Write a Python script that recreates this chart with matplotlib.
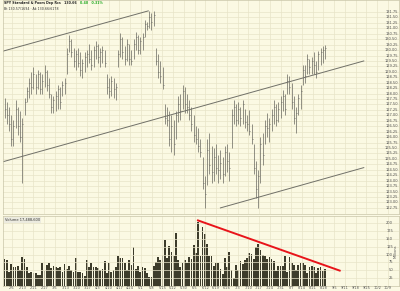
import matplotlib
matplotlib.use("Agg")
import matplotlib.pyplot as plt
import matplotlib.transforms as mtransforms
import numpy as np

# ---------------- data ----------------
high = [127.8, 127.6, 127.4, 127.0, 126.8, 127.7, 127.4, 127.2, 126.9, 127.8,
        128.3, 128.7, 129.0, 129.2, 128.9, 129.1, 129.0, 128.9, 129.3, 129.1,
        128.7, 128.0, 127.9, 128.1, 128.4, 128.3, 128.6, 128.7, 130.1, 130.7,
        130.5, 130.1, 130.0, 130.1, 129.9, 129.6, 129.9, 130.0, 130.3, 130.0,
        130.2, 130.4, 130.3, 130.1, 130.2, 130.0, 128.9, 128.7, 128.8, 128.7,
        128.5, 130.0, 130.8, 130.6, 130.2, 130.5, 130.3, 130.0, 130.5, 130.85,
        130.7, 130.6, 130.8, 131.4, 131.3, 131.8, 131.7, 131.8, 130.1, 129.8,
        129.5, 129.2, 127.5, 127.4, 127.2, 127.0, 126.8, 127.2, 127.9, 128.0,
        128.4, 128.3, 128.0, 127.7, 127.4, 127.0, 126.5, 126.4, 125.9, 125.1,
        124.2, 125.9, 126.2, 125.6, 125.5, 125.7, 125.2, 125.4, 125.1, 125.6,
        125.7, 125.3, 127.3, 127.7, 127.5, 127.6, 127.4, 127.7, 127.3, 127.0,
        127.25, 126.6, 125.7, 124.9, 124.5, 126.0, 126.2, 126.8, 127.1, 126.9,
        127.3, 127.7, 127.5, 127.6, 127.9, 128.15, 128.0, 128.9, 128.8, 128.5,
        127.9, 127.4, 128.0, 128.4, 129.3, 129.3, 129.8, 129.6, 129.7, 129.9,
        129.5, 129.95, 130.1, 130.2, 130.25]
low = [126.9, 126.6, 126.3, 125.6, 125.6, 126.4, 126.1, 125.8, 123.9, 127.0,
       127.6, 127.8, 128.0, 128.2, 128.0, 128.2, 128.0, 128.0, 128.3, 128.1,
       127.8, 127.1, 127.1, 127.2, 127.3, 127.3, 127.9, 128.0, 128.9, 129.9,
       129.7, 129.2, 129.1, 129.2, 128.8, 128.7, 129.0, 129.2, 129.4, 129.1,
       129.2, 129.6, 129.4, 129.2, 129.4, 129.2, 128.0, 127.8, 127.9, 127.8,
       127.7, 129.2, 129.7, 129.6, 129.3, 129.5, 129.3, 129.3, 129.6, 130.0,
       129.8, 129.8, 130.0, 130.6, 130.9, 131.0, 130.9, 131.1, 129.3, 128.7,
       128.5, 128.2, 126.6, 126.5, 125.6, 125.3, 125.2, 125.9, 126.7, 126.8,
       127.3, 127.1, 127.1, 126.8, 126.3, 125.8, 125.7, 125.3, 125.1, 123.6,
       122.75, 123.8, 124.3, 123.9, 124.0, 124.3, 123.9, 124.1, 123.9, 124.2,
       124.4, 124.0, 125.5, 126.6, 126.5, 126.6, 126.5, 126.6, 126.4, 126.3,
       126.1, 125.7, 124.3, 123.2, 122.75, 123.9, 124.7, 125.7, 126.0, 125.8,
       126.3, 126.6, 126.5, 126.7, 126.9, 127.2, 127.0, 128.0, 128.0, 127.3,
       126.6, 126.2, 127.0, 127.3, 128.4, 128.5, 128.9, 128.9, 128.9, 128.9,
       128.7, 129.1, 129.3, 129.4, 129.6]
close = [127.3, 127.0, 126.6, 125.9, 126.5, 127.3, 126.5, 126.0, 126.6, 127.6,
         128.1, 128.5, 128.3, 128.9, 128.3, 128.9, 128.2, 128.6, 129.0, 128.4,
         128.0, 127.4, 127.7, 127.9, 128.2, 127.6, 128.4, 128.5, 129.8, 130.4,
         129.9, 129.5, 129.8, 129.4, 129.1, 129.4, 129.7, 129.8, 129.6, 129.3,
         130.0, 130.2, 129.7, 129.9, 130.0, 129.4, 128.3, 128.1, 128.6, 128.2,
         128.3, 129.8, 130.5, 129.9, 129.6, 130.3, 129.6, 129.5, 130.3, 130.6,
         130.0, 130.4, 130.6, 131.2, 131.1, 131.5, 131.3, 131.6, 129.5, 129.0,
         128.8, 128.4, 126.9, 126.8, 125.9, 126.5, 125.7, 127.0, 127.5, 127.2,
         128.1, 127.5, 127.4, 127.0, 126.6, 126.1, 125.9, 125.6, 125.3, 123.9,
         123.4, 125.4, 124.7, 124.4, 125.1, 124.6, 124.5, 124.8, 124.3, 125.3,
         124.9, 124.6, 127.0, 127.4, 126.8, 127.3, 126.9, 127.5, 126.7, 126.6,
         126.3, 125.9, 124.6, 123.6, 124.2, 125.7, 125.2, 126.5, 126.4, 126.6,
         127.0, 127.4, 126.8, 127.3, 127.6, 127.9, 127.3, 128.6, 128.3, 127.6,
         126.9, 127.1, 127.8, 128.1, 129.1, 128.8, 129.6, 129.2, 129.5, 129.3,
         129.0, 129.8, 129.9, 130.0, 130.1]
volume = [85, 83, 46, 70, 60, 62, 64, 51, 91, 85,
          60, 40, 46, 43, 43, 35, 35, 74, 49, 67,
          74, 58, 64, 62, 56, 60, 46, 70, 53, 64,
          51, 46, 88, 46, 46, 43, 32, 83, 62, 72,
          60, 60, 56, 51, 53, 81, 43, 72, 46, 51,
          62, 94, 88, 88, 72, 51, 83, 67, 125, 53,
          64, 46, 62, 56, 40, 30, 30, 64, 78, 91,
          83, 99, 145, 88, 128, 109, 94, 168, 83, 62,
          72, 83, 72, 91, 85, 131, 106, 205, 96, 187,
          166, 134, 96, 96, 64, 74, 74, 53, 38, 88,
          62, 109, 51, 24, 67, 51, 81, 70, 83, 88,
          104, 102, 85, 123, 134, 115, 99, 94, 85, 91,
          85, 81, 49, 64, 64, 64, 96, 46, 91, 72,
          67, 51, 67, 72, 72, 67, 43, 60, 64, 60,
          43, 56, 62, 49, 53]
date_labels = ["2/6", "2/13", "2/21", "2/27", "3/6", "3/13", "3/20", "3/27",
               "4/3", "4/10", "4/17", "4/24", "5/1", "5/8", "5/15", "5/22",
               "5/30", "6/5", "6/12", "6/19", "6/26", "7/3", "7/10", "7/17",
               "7/24", "7/31", "8/7", "8/14", "8/21", "8/28", "9/5", "9/11",
               "9/18", "9/25", "10/2", "10/9"]
# channel lines (bar index, price)
upper_line = [(-0.7, 129.95), (64.6, 131.8)]
middle_line = [(-0.7, 124.87), (161.4, 129.5)]
lower_line = [(97.0, 122.75), (161.4, 124.6)]
# volume trend line (bar index, millions)
vol_trend = [(86.5, 210), (151.0, 48)]
price_ticks = [122.75 + 0.25 * k for k in range(37)]
vol_ticks = [0, 25, 50, 75, 100, 125, 150, 175, 200]

# ---------------- style ----------------
BG = "#fbf9e3"
GRID = "#e8e4c8"
BAR = "#66665e"
VOLC = "#3d3c2b"
TXT = "#555555"

W, H = 400, 291
fig = plt.figure(figsize=(W / 100, H / 100), dpi=100)
fig.patch.set_facecolor(BG)

n = len(high)
x = np.arange(n)
pitch = 2.226
x0px = 4.5
xl = ((3 - x0px) / pitch, (399 - x0px) / pitch)
week_pos = [(12 - x0px) / pitch + k * 10.74 / pitch for k in range(len(date_labels))]

# price panel
ax = fig.add_axes([3 / W, 1 - 214 / H, 396 / W, 214 / H])
ax.set_facecolor(BG)
ax.set_xlim(*xl)
ax.set_ylim(122.47, 132.3)
ax.set_yticks(price_ticks)
ax.set_xticks(week_pos)
ax.grid(True, color=GRID, lw=0.5)
ax.tick_params(length=0, labelleft=False, labelbottom=False)
for s in ax.spines.values():
    s.set_color("#c8c4a8")
    s.set_linewidth(0.5)
ax.vlines(x, low, high, color=BAR, lw=0.5)
ax.hlines(close, x, x + 0.45, color=BAR, lw=0.5)
for ln in (upper_line, middle_line, lower_line):
    ax.plot([p[0] for p in ln], [p[1] for p in ln], color="#707068", lw=0.7)
tr = mtransforms.blended_transform_factory(ax.transAxes, ax.transData)
for t in price_ticks:
    ax.text(0.997, t, f"{t:.2f}", transform=tr, ha="right", va="center",
            fontsize=2.6, color=TXT)
# header
ax.text(0.003, 0.996, "SPY Standard & Poors Dep Rcs   130.66", transform=ax.transAxes,
        ha="left", va="top", fontsize=2.3, color="#222222", fontweight="bold")
ax.text(0.195, 0.996, "0.40   0.31%", transform=ax.transAxes,
        ha="left", va="top", fontsize=2.3, color="#22aa22", fontweight="bold")
ax.text(0.003, 0.968, "Bt 130.57/1694 \u00b7 Ak 130.66/6178", transform=ax.transAxes,
        ha="left", va="top", fontsize=2.3, color="#333333")

# volume panel
av = fig.add_axes([3 / W, 1 - 286 / H, 396 / W, 70 / H])
av.set_facecolor(BG)
av.set_xlim(*xl)
av.set_ylim(0, 223)
av.set_yticks(vol_ticks)
av.set_xticks(week_pos)
av.grid(True, color=GRID, lw=0.5)
av.tick_params(length=0, labelleft=False, labelbottom=False)
for s in av.spines.values():
    s.set_color("#c8c4a8")
    s.set_linewidth(0.5)
av.bar(x, volume, width=0.78, color=VOLC, edgecolor="none")
av.plot([p[0] for p in vol_trend], [p[1] for p in vol_trend], color="#e8141a", lw=1.4,
        solid_capstyle="butt")
trv = mtransforms.blended_transform_factory(av.transAxes, av.transData)
for t in vol_ticks[1:]:
    av.text(0.985, t, str(t), transform=trv, ha="right", va="center",
            fontsize=2.6, color=TXT)
av.text(0.997, 0.5, "Millions", transform=av.transAxes, rotation=90,
        ha="right", va="center", fontsize=2.6, color=TXT)
av.text(0.005, 0.97, "Volume 17,488,600", transform=av.transAxes, ha="left", va="top",
        fontsize=2.6, color="#333333",
        bbox=dict(boxstyle="square,pad=0.2", fc="#ecebdf", ec="none"))
# date labels under the volume panel
trd = mtransforms.blended_transform_factory(av.transData, fig.transFigure)
for p, lab in zip(week_pos, date_labels):
    av.text(p, 1.2 / H, lab, transform=trd, ha="center", va="bottom",
            fontsize=2.5, color=TXT)

fig.savefig("out.png", dpi=100, facecolor=BG)
